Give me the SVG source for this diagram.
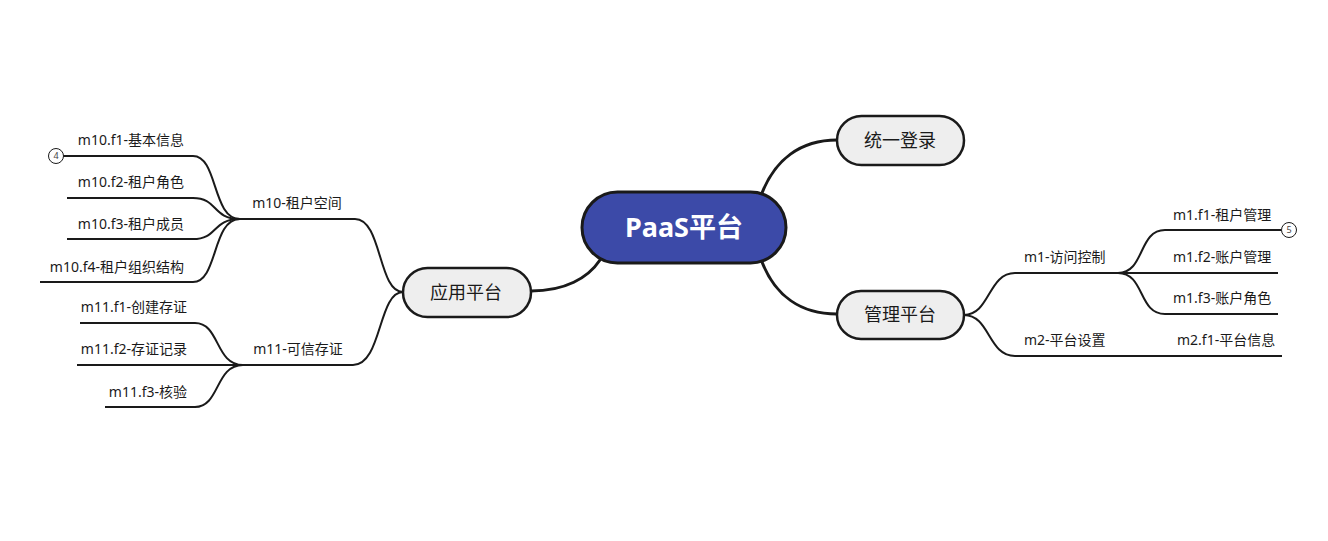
<svg xmlns="http://www.w3.org/2000/svg" width="1328" height="541" viewBox="0 0 1328 541">
<style>
.t{font-family:"Noto Sans","Noto Sans CJK SC",sans-serif;fill:#1a1a1a}
.leaf{font-size:14px}
.topic{font-size:18px;text-anchor:middle}
.main{stroke:#1a1a1a;stroke-width:3;fill:none;stroke-linecap:round}
.br{stroke:#1a1a1a;stroke-width:2;fill:none}
.sub{fill:#eeeeee;stroke:#1a1a1a;stroke-width:2.5}
.badge{fill:#ffffff;stroke:#1a1a1a;stroke-width:1}
.bt{font-family:"Noto Sans",sans-serif;font-size:9px;fill:#444;text-anchor:middle}
</style>
<rect width="1328" height="541" fill="#ffffff"/>
<g id="connectors">
<path class="main" d="M762,193 C775,160 800,140 837,140"/>
<path class="main" d="M762,262 C775,295 800,314 837,314"/>
<path class="main" d="M600,260 C588,278 565,291 531,291"/>
<path class="br" d="M964,315 C990,315 988,273 1015,273 H1278"/>
<path class="br" d="M1118,273 C1145,273 1138,230 1165,230 H1281"/>
<path class="br" d="M1118,273 C1145,273 1138,314 1165,314 H1278"/>
<path class="br" d="M964,315 C990,315 988,356 1015,356 H1282"/>
<path class="br" d="M403,292 C378,292 382,219 355,219 H240"/>
<path class="br" d="M240,219 C212,219 218,156 193,156 H63"/>
<path class="br" d="M240,219 C212,219 218,198 193,198 H67"/>
<path class="br" d="M240,219 C212,219 218,239 193,239 H67"/>
<path class="br" d="M240,219 C212,219 218,282 193,282 H40"/>
<path class="br" d="M403,292 C378,292 382,365 353,365 H77"/>
<path class="br" d="M243,365 C215,365 220,323 195,323 H80"/>
<path class="br" d="M243,365 C215,365 220,407 195,407 H105"/>
</g>
<g id="root">
<rect x="582" y="192" width="204" height="71" rx="35.5" fill="#3c4aa8" stroke="#1a1a1a" stroke-width="3"/>
<text x="684" y="237" font-family="'Noto Sans','Noto Sans CJK SC',sans-serif" font-size="27" font-weight="bold" fill="#ffffff" text-anchor="middle">PaaS平台</text>
</g>
<g id="n-login">
<rect class="sub" x="837" y="116" width="127" height="49" rx="24.5"/>
<text class="t topic" x="900" y="147">统一登录</text>
</g>
<g id="n-admin">
<rect class="sub" x="837" y="291" width="127" height="48" rx="24"/>
<text class="t topic" x="900" y="321">管理平台</text>
</g>
<g id="n-app">
<rect class="sub" x="403" y="268" width="128" height="49" rx="24.5"/>
<text class="t topic" x="466" y="299">应用平台</text>
</g>
<g id="n-m1"><text class="t leaf" x="1024" y="262">m1-访问控制</text></g>
<g id="n-m1f1"><text class="t leaf" x="1173" y="220">m1.f1-租户管理</text>
<circle class="badge" cx="1289" cy="230" r="7.5"/><text class="bt" x="1289" y="233.2">5</text></g>
<g id="n-m1f2"><text class="t leaf" x="1173" y="262">m1.f2-账户管理</text></g>
<g id="n-m1f3"><text class="t leaf" x="1173" y="303">m1.f3-账户角色</text></g>
<g id="n-m2"><text class="t leaf" x="1024" y="345">m2-平台设置</text></g>
<g id="n-m2f1"><text class="t leaf" x="1177" y="345">m2.f1-平台信息</text></g>
<g id="n-m10"><text class="t leaf" x="297" y="208" text-anchor="middle">m10-租户空间</text></g>
<g id="n-m10f1"><text class="t leaf" x="184" y="145" text-anchor="end">m10.f1-基本信息</text>
<circle class="badge" cx="56" cy="156" r="7.5"/><text class="bt" x="56" y="159.2">4</text></g>
<g id="n-m10f2"><text class="t leaf" x="184" y="187" text-anchor="end">m10.f2-租户角色</text></g>
<g id="n-m10f3"><text class="t leaf" x="184" y="229" text-anchor="end">m10.f3-租户成员</text></g>
<g id="n-m10f4"><text class="t leaf" x="184" y="272" text-anchor="end">m10.f4-租户组织结构</text></g>
<g id="n-m11"><text class="t leaf" x="298" y="354" text-anchor="middle">m11-可信存证</text></g>
<g id="n-m11f1"><text class="t leaf" x="187" y="312" text-anchor="end">m11.f1-创建存证</text></g>
<g id="n-m11f2"><text class="t leaf" x="187" y="354" text-anchor="end">m11.f2-存证记录</text></g>
<g id="n-m11f3"><text class="t leaf" x="187" y="397" text-anchor="end">m11.f3-核验</text></g>
</svg>
